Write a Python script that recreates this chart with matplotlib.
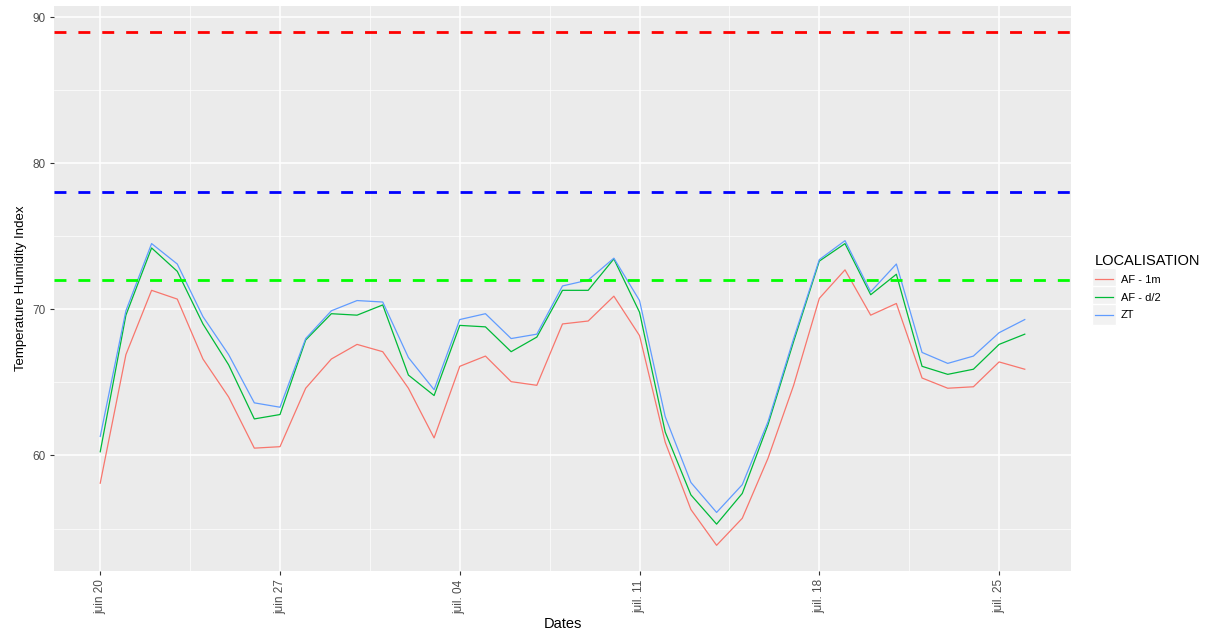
import datetime as dt
import matplotlib
matplotlib.use("Agg")
import matplotlib.pyplot as plt
import matplotlib.dates as mdates
from matplotlib.legend_handler import HandlerLine2D
from matplotlib.patches import Rectangle

plt.rcParams['font.family'] = ['Liberation Sans', 'DejaVu Sans']

# daily THI values, 20 June -> 26 July
start = dt.date(2016, 6, 20)
af_1m = [58.1, 66.9, 71.3, 70.7, 66.6, 64.0, 60.5, 60.6, 64.6, 66.6, 67.6, 67.1,
         64.6, 61.2, 66.1, 66.8, 65.05, 64.8, 69.0, 69.2, 70.9, 68.2, 60.9, 56.3,
         53.85, 55.7, 59.8, 64.8, 70.75, 72.7, 69.6, 70.4, 65.3, 64.6, 64.7, 66.4, 65.9]
af_d2 = [60.25, 69.6, 74.2, 72.6, 69.0, 66.2, 62.5, 62.8, 67.9, 69.7, 69.6, 70.3,
         65.5, 64.1, 68.9, 68.8, 67.1, 68.1, 71.3, 71.3, 73.45, 69.8, 61.6, 57.3,
         55.3, 57.4, 62.1, 67.8, 73.3, 74.5, 71.0, 72.4, 66.1, 65.55, 65.9, 67.6, 68.3]
zt = [61.3, 69.9, 74.5, 73.1, 69.5, 66.9, 63.6, 63.3, 68.0, 69.9, 70.6, 70.5,
      66.7, 64.5, 69.3, 69.7, 68.0, 68.3, 71.6, 72.0, 73.5, 70.6, 62.65, 58.15,
      56.1, 58.0, 62.3, 68.0, 73.4, 74.7, 71.2, 73.1, 67.05, 66.3, 66.8, 68.4, 69.3]
dates = [start + dt.timedelta(days=i) for i in range(len(zt))]

series_names = ['AF - 1m', 'AF - d/2', 'ZT']
series_colors = ['#F8766D', '#00BA38', '#619CFF']

thresholds = [89, 78, 72]
threshold_colors = ['#FF0000', '#0000FF', '#00FF00']

tick_dates = [dt.date(2016, 6, 20), dt.date(2016, 6, 27), dt.date(2016, 7, 4),
              dt.date(2016, 7, 11), dt.date(2016, 7, 18), dt.date(2016, 7, 25)]
tick_labels = ['juin 20', 'juin 27', 'juil. 04', 'juil. 11', 'juil. 18', 'juil. 25']


class HandlerKey(HandlerLine2D):
    # ggplot style legend key: grey square behind the line
    def create_artists(self, legend, orig_handle, xdescent, ydescent, width, height, fontsize, trans):
        bg = Rectangle((-xdescent - 2, -ydescent - 5), width + 4, height + 10,
                       facecolor='#F2F2F2', edgecolor='white', lw=1, transform=trans)
        arts = super().create_artists(legend, orig_handle, xdescent, ydescent, width, height, fontsize, trans)
        return [bg] + arts


fig = plt.figure(figsize=(12.07, 6.30), dpi=100)
ax = fig.add_axes([54 / 1207, 1 - 571 / 630, 1017 / 1207, 565 / 630])
ax.set_facecolor('#EBEBEB')

lines = []
for vals, name, col in zip([af_1m, af_d2, zt], series_names, series_colors):
    l, = ax.plot(dates, vals, color=col, lw=0.9, label=name)
    lines.append(l)

for v, c in zip(thresholds, threshold_colors):
    ax.plot([dates[0], dates[-1]], [v, v], color=c, lw=2, ls=(0, (4.3, 4.3)))

ax.margins(x=0.05, y=0.05)
# hlines cover full width
xl = ax.get_xlim()
for ln in ax.lines[3:]:
    ln.set_xdata(xl)
ax.set_xlim(xl)

ax.set_xticks([mdates.date2num(d) for d in tick_dates])
ax.set_xticklabels(tick_labels, rotation=90, color='#4D4D4D', fontsize=8.5)
ax.set_xticks([mdates.date2num(d) + 3.5 for d in tick_dates[:-1]], minor=True)
ax.set_yticks([60, 70, 80, 90])
ax.set_yticks([55, 65, 75, 85], minor=True)
ax.tick_params(axis='y', labelcolor='#4D4D4D', labelsize=8.5)
ax.tick_params(which='major', color='#333333', length=3, width=0.8, pad=3)
ax.tick_params(which='minor', length=0)
ax.grid(which='major', color='white', lw=1.1)
ax.grid(which='minor', color='white', lw=0.5)
ax.set_axisbelow(True)
for s in ax.spines.values():
    s.set_visible(False)

ax.set_xlabel('Dates', fontsize=10.5, labelpad=2)
ax.set_ylabel('Temperature Humidity Index', fontsize=9.5)

leg = ax.legend(handles=lines, title='LOCALISATION', loc='upper left',
                bbox_to_anchor=(1085 / 1207, 1 - 244 / 630), bbox_transform=fig.transFigure,
                frameon=False, fontsize=8, title_fontsize=10.5, handlelength=1.6,
                handletextpad=0.7, labelspacing=0.7,
                handler_map={matplotlib.lines.Line2D: HandlerKey()})
leg._legend_box.align = 'left'
leg._legend_box.sep = 5

fig.savefig('out.png', dpi=100)
